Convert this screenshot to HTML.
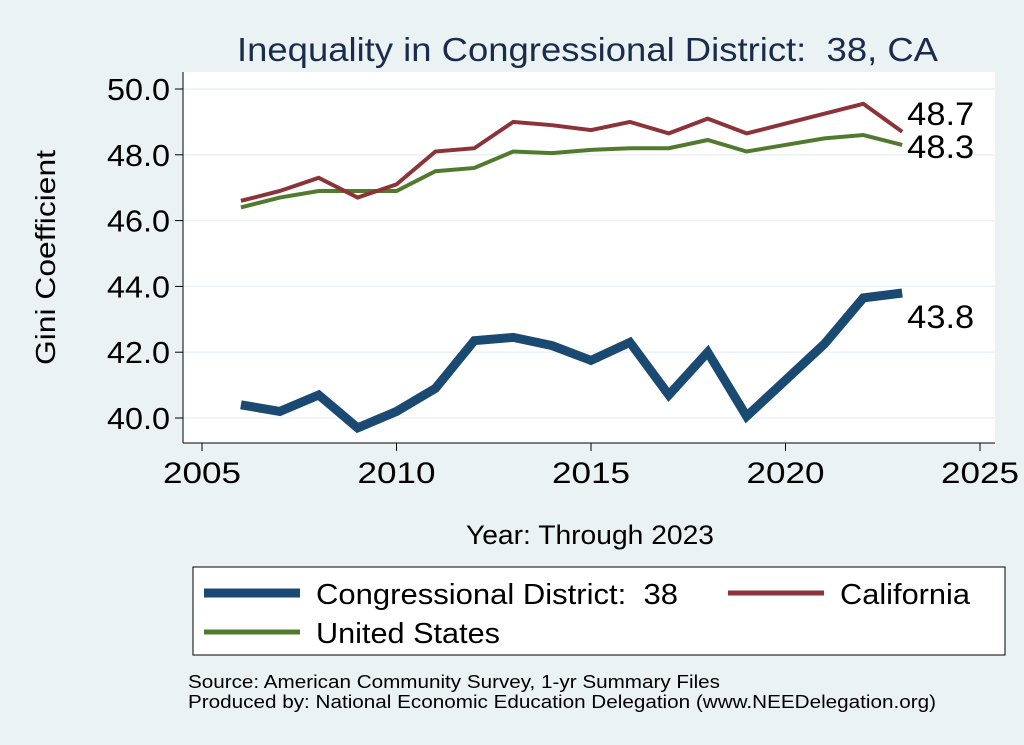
<!DOCTYPE html>
<html><head><meta charset="utf-8"><style>
body{margin:0;background:#eaf2f3;}
svg{display:block;font-family:"Liberation Sans",sans-serif;}
text{white-space:pre;}
</style></head><body>
<svg id="c" width="1024" height="745" xml:space="preserve">
<rect x="0" y="0" width="1024" height="745" fill="#eaf2f3"/>
<text x="237" y="61" font-size="33" fill="#1a2b4c" textLength="701" lengthAdjust="spacingAndGlyphs">Inequality in Congressional District:  38, CA</text>
<rect x="183" y="72" width="812" height="371" fill="#ffffff"/>
<g id="grid"></g>
<g id="axes"></g>
<g id="series"></g>
<text x="0" y="0" font-size="28" fill="#000" textLength="215" lengthAdjust="spacingAndGlyphs" transform="translate(55 365) rotate(-90)">Gini Coefficient</text>
<text x="466" y="544" font-size="27" fill="#000" textLength="248" lengthAdjust="spacingAndGlyphs">Year: Through 2023</text>
<g>
<rect x="193" y="567" width="812" height="88" fill="#fff" stroke="#000" stroke-width="1"/>
<line x1="204" y1="593" x2="300" y2="593" stroke="#1a4a72" stroke-width="9"/>
<text x="316" y="604" font-size="29" textLength="362" lengthAdjust="spacingAndGlyphs">Congressional District:  38</text>
<line x1="728" y1="593" x2="824" y2="593" stroke="#8c3339" stroke-width="5"/>
<text x="840" y="604" font-size="29" textLength="130" lengthAdjust="spacingAndGlyphs">California</text>
<line x1="204" y1="632" x2="300" y2="632" stroke="#527a2f" stroke-width="5"/>
<text x="316" y="643" font-size="29" textLength="184" lengthAdjust="spacingAndGlyphs">United States</text>
</g>
<text x="188" y="688" font-size="18" textLength="532" lengthAdjust="spacingAndGlyphs">Source: American Community Survey, 1-yr Summary Files</text>
<text x="188" y="708" font-size="18" textLength="748" lengthAdjust="spacingAndGlyphs">Produced by: National Economic Education Delegation (www.NEEDelegation.org)</text>
</svg>
<script>
const years=[2006,2007,2008,2009,2010,2011,2012,2013,2014,2015,2016,2017,2018,2019,2020,2021,2022,2023];
const district=[40.4,40.2,40.7,39.7,40.2,40.9,42.35,42.45,42.2,41.75,42.3,40.7,42.0,40.05,41.15,42.25,43.65,43.8];
const california=[46.6,46.9,47.3,46.7,47.1,48.1,48.2,49.0,48.9,48.75,49.0,48.65,49.1,48.65,48.95,49.25,49.55,48.7];
const unitedStates=[46.4,46.7,46.9,46.9,46.9,47.5,47.6,48.1,48.05,48.15,48.2,48.2,48.45,48.1,48.3,48.5,48.6,48.3];
const yTicks=[40,42,44,46,48,50];
const yTickLabels=["40.0","42.0","44.0","46.0","48.0","50.0"];
const xTicks=[2005,2010,2015,2020,2025];
const NS="http://www.w3.org/2000/svg";
const X=v=>202+(v-2005)*(980-202)/20;
const Y=v=>418-(v-40)*(418-89)/10;
function mk(p,t,a){const e=document.createElementNS(NS,t);for(const k in a)e.setAttribute(k,a[k]);p.appendChild(e);return e;}
const grid=document.getElementById('grid'),axes=document.getElementById('axes'),ser=document.getElementById('series');
yTicks.forEach((v,i)=>{
 const g=mk(grid,'line',{x1:183,x2:995,y1:Y(v),y2:Y(v),stroke:'#eaf2f3','stroke-width':1.5});
 
 
 const t=mk(axes,'line',{x1:175,x2:183,y1:Y(v),y2:Y(v),stroke:'#000'});
 
 
 const l=mk(axes,'text',{x:107,y:Y(v)+11,'font-size':31,textLength:63,lengthAdjust:'spacingAndGlyphs'});l.textContent=yTickLabels[i];
 
 
});
xTicks.forEach(v=>{
 const t=mk(axes,'line',{x1:X(v),x2:X(v),y1:443,y2:451,stroke:'#000'});
 
 
 const l=mk(axes,'text',{x:X(v)-39,y:483,'font-size':30,textLength:78,lengthAdjust:'spacingAndGlyphs'});l.textContent=v;
 
 
});
const ya=mk(axes,'line',{x1:183,x2:183,y1:72,y2:443,stroke:'#000'});


const xa=mk(axes,'line',{x1:183,x2:995,y1:443,y2:443,stroke:'#000'});


function line(vals,col,w,name,labDy){
 const p=mk(ser,'polyline',{points:vals.map((v,i)=>X(years[i])+','+Y(v)).join(' '),fill:'none',stroke:col,'stroke-width':w,'stroke-linejoin':'miter'});
 
 
 const last=vals[vals.length-1];
 const t=mk(ser,'text',{x:X(years[years.length-1])+5,y:Y(last)+labDy,'font-size':32,textLength:67,lengthAdjust:'spacingAndGlyphs'});t.textContent=last.toFixed(1);
 
 
}
line(unitedStates,'#527a2f',4,'us-line',13);
line(california,'#8c3339',4,'california-line',-7);
line(district,'#1a4a72',9,'district-line',35);
</script>
</body></html>
